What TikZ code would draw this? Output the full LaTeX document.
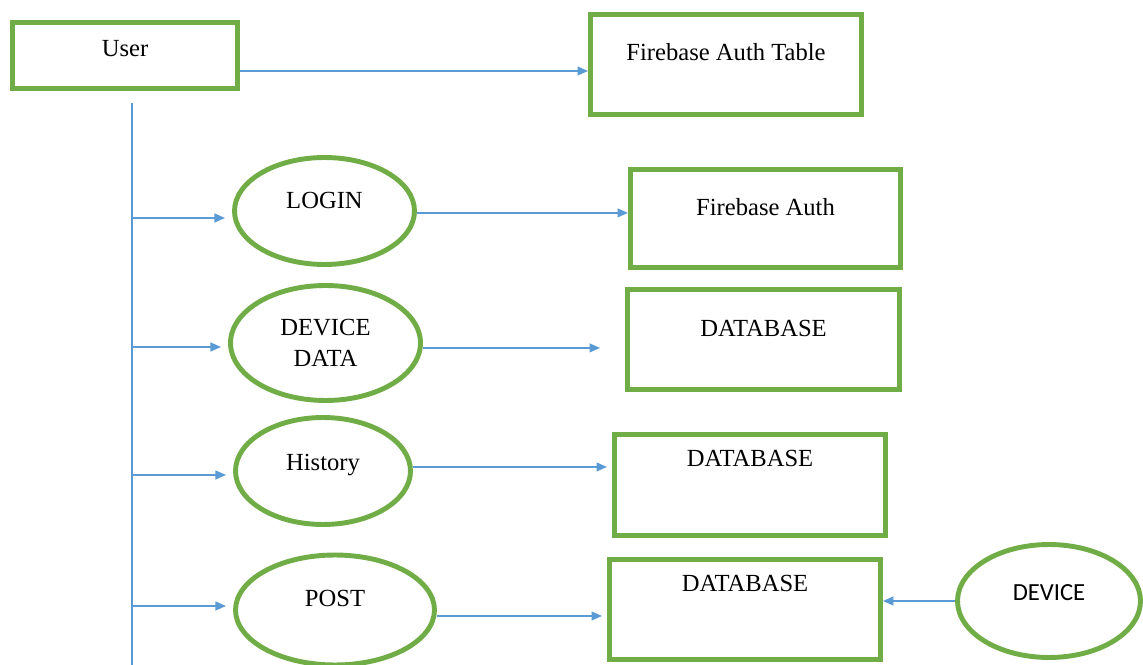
\documentclass[tikz,border=0pt]{standalone}
\usepackage{fontspec}
\setmainfont{Liberation Serif}
\newfontfamily\devfont{Carlito}
\usepackage{xcolor}
\usetikzlibrary{arrows.meta, shapes.geometric}

\definecolor{boxgreen}{HTML}{70AD47}
\definecolor{flowblue}{HTML}{5B9BD5}

\tikzset{
    box/.style={draw=boxgreen, line width=2.8pt, rectangle, inner sep=0pt},
    oval/.style={draw=boxgreen, line width=2.8pt, ellipse, inner sep=0pt},
    txt/.style={font=\fontsize{14}{17}\selectfont, text height=9.5pt, text depth=0pt, inner sep=0pt},
    flow/.style={draw=flowblue, line width=1pt, -{Triangle[length=6pt,width=5pt]}},
    trunk/.style={draw=flowblue, line width=1pt}
}

\begin{document}
\begin{tikzpicture}[x=0.02cm, y=-0.02cm]
    \useasboundingbox (0,0) rectangle (1143,665);

    \node[box, minimum width=4.5cm, minimum height=1.32cm, label={[txt,yshift=4.3pt]center:User}] (user) at (125,55.5) {};
    \node[box, minimum width=5.42cm, minimum height=2cm, label={[txt,yshift=7.1pt]center:Firebase Auth Table}] (authtable) at (726,64.5) {};

    \node[oval, minimum width=3.6cm, minimum height=2.14cm, label={[txt,yshift=6.2pt]center:LOGIN}] (login) at (324.5,211) {};
    \node[oval, minimum width=3.8cm, minimum height=2.3cm, align=center, font=\fontsize{14}{18}\selectfont] (devdata) at (325.5,343) {DEVICE\\DATA};
    \node[oval, minimum width=3.5cm, minimum height=2.14cm, label={[txt,yshift=5.1pt]center:History}] (history) at (323,471) {};
    \node[oval, minimum width=3.98cm, minimum height=2.2cm, label={[txt,yshift=6.5pt]center:POST}] (post) at (335,610) {};

    \node[box, minimum width=5.4cm, minimum height=1.96cm, label={[txt,yshift=6.5pt]center:Firebase Auth}] (auth) at (765.5,218.5) {};
    \node[box, minimum width=5.44cm, minimum height=2cm, label={[txt,yshift=6.5pt]center:DATABASE}] (dbdata) at (763.5,339.5) {};
    \node[box, minimum width=5.42cm, minimum height=2.02cm, label={[txt,yshift=15.3pt]center:DATABASE}] (dbhist) at (750,485) {};
    \node[box, minimum width=5.42cm, minimum height=2cm, label={[txt,yshift=15pt]center:DATABASE}] (dbpost) at (745,609.5) {};

    \node[oval, minimum width=3.66cm, minimum height=2.26cm, label={[txt,font=\devfont\fontsize{14}{17}\selectfont,yshift=5.1pt]center:DEVICE}] (device) at (1049,601) {};

    \coordinate (toprow) at (240,71);
    \draw[flow] (user.east |- toprow) -- (authtable.west |- toprow);

    \coordinate (trunktop) at (132,103);
    \coordinate (trunkbot) at (132,665);
    \draw[trunk] (trunktop) -- (trunkbot);

    \foreach \n/\y in {login/218, devdata/347, history/475, post/606}
        \draw[flow, shorten >=4pt] (trunktop |- 0,\y) -- (\n.west |- 0,\y);

    \draw[flow] ([yshift=-1.1pt]login.east) -- ([yshift=-1.1pt]login.east -| auth.west);
    \draw[flow, shorten >=0.5cm] ([yshift=-2.8pt]devdata.east) -- ([yshift=-2.8pt]devdata.east -| dbdata.west);
    \draw[flow, shorten >=0.1cm] ([yshift=2.3pt]history.east) -- ([yshift=2.3pt]history.east -| dbhist.west);
    \draw[flow, shorten >=0.1cm] ([yshift=-3.4pt]post.east) -- ([yshift=-3.4pt]post.east -| dbpost.west);
    \draw[flow] (device.west) -- (device.west -| dbpost.east);
\end{tikzpicture}
\end{document}
